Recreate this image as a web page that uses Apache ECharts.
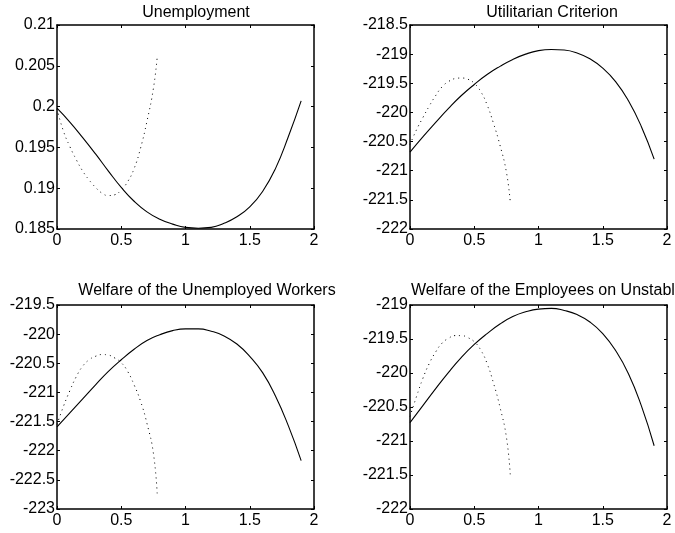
<!DOCTYPE html>
<html>
<head>
<meta charset="utf-8">
<script src="https://cdn.jsdelivr.net/npm/echarts@6/dist/echarts.min.js"></script>
<style>
html,body{margin:0;padding:0;background:#fff;}
#chart{width:675px;height:533px;}
</style>
</head>
<body>
<div id="chart"></div>
<script>
// ---- Data ----
const xSolid = [0, 0.1, 0.2, 0.3, 0.4, 0.5, 0.6, 0.7, 0.8, 0.9, 1.0, 1.1, 1.2, 1.3, 1.4, 1.5, 1.6, 1.7, 1.8, 1.9];
const xDotted = [0, 0.05, 0.1, 0.15, 0.2, 0.25, 0.3, 0.35, 0.4, 0.45, 0.5, 0.55, 0.6, 0.65, 0.7, 0.75, 0.78];

const titles = ['Unemployment', 'Utilitarian Criterion', 'Welfare of the Unemployed Workers', 'Welfare of the Employees on Unstable Jobs'];
const xTicks = [0, 0.5, 1, 1.5, 2];

const unemploymentSolid = [0.1998, 0.1981, 0.1962, 0.1942, 0.1921, 0.1901, 0.1884, 0.1871, 0.1862, 0.1856, 0.1852, 0.1851, 0.1852, 0.1857, 0.1865, 0.1877, 0.1896, 0.1924, 0.1963, 0.2007];
const unemploymentDotted = [0.1997, 0.1970, 0.1951, 0.1935, 0.1921, 0.1910, 0.1901, 0.1894, 0.1891, 0.1892, 0.1898, 0.1908, 0.1924, 0.1949, 0.1982, 0.2022, 0.2061];

const utilitarianSolid = [-220.68, -220.42, -220.17, -219.93, -219.71, -219.52, -219.35, -219.21, -219.09, -219.00, -218.94, -218.92, -218.93, -218.98, -219.08, -219.24, -219.47, -219.80, -220.24, -220.80];
const utilitarianDotted = [-220.55, -220.30, -220.09, -219.89, -219.71, -219.56, -219.47, -219.42, -219.41, -219.43, -219.50, -219.64, -219.87, -220.19, -220.56, -221.02, -221.53];

const unemployedSolid = [-221.59, -221.35, -221.11, -220.87, -220.64, -220.44, -220.26, -220.11, -220.01, -219.94, -219.91, -219.91, -219.95, -220.03, -220.17, -220.38, -220.66, -221.06, -221.57, -222.17];
const unemployedDotted = [-221.55, -221.24, -220.97, -220.73, -220.55, -220.44, -220.38, -220.35, -220.36, -220.41, -220.49, -220.64, -220.87, -221.15, -221.53, -222.04, -222.75];

const unstableSolid = [-220.73, -220.48, -220.23, -219.99, -219.77, -219.58, -219.42, -219.28, -219.17, -219.10, -219.06, -219.05, -219.08, -219.14, -219.25, -219.42, -219.67, -220.01, -220.48, -221.07];
const unstableDotted = [-220.64, -220.35, -220.08, -219.86, -219.69, -219.56, -219.49, -219.45, -219.45, -219.48, -219.54, -219.66, -219.86, -220.15, -220.50, -220.94, -221.49];

const yRanges = [
  {min: 0.185, max: 0.21, interval: 0.005, dec: 3},
  {min: -222, max: -218.5, interval: 0.5, dec: 1},
  {min: -223, max: -219.5, interval: 0.5, dec: 1},
  {min: -222, max: -219, interval: 0.5, dec: 1}
];
const solidSets = [unemploymentSolid, utilitarianSolid, unemployedSolid, unstableSolid];
const dottedSets = [unemploymentDotted, utilitarianDotted, unemployedDotted, unstableDotted];

// ---- Layout ----
const grids = [
  {left: 57, top: 25, width: 257, height: 204},
  {left: 410, top: 25, width: 257, height: 204},
  {left: 57, top: 305, width: 257, height: 204},
  {left: 410, top: 305, width: 257, height: 204}
];
const titlePos = [
  {left: 196, top: 5, textAlign: 'center'},
  {left: 552, top: 5, textAlign: 'center'},
  {left: 207, top: 283, textAlign: 'center'},
  {left: 411, top: 283, textAlign: 'left'}
];

const FONT = "'Liberation Sans', Arial, Helvetica, sans-serif";
const lineStyleAxis = {color: '#000', width: 1.5};
const fmt = (dec) => (v) => String(parseFloat(Number(v).toFixed(dec)));

const xAxes = [], yAxes = [], series = [], titleOpts = [];
for (let i = 0; i < 4; i++) {
  titleOpts.push({
    text: titles[i], left: titlePos[i].left, top: titlePos[i].top, textAlign: titlePos[i].textAlign,
    padding: 0,
    textStyle: {fontFamily: FONT, fontSize: 16, fontWeight: 'normal', color: '#000'}
  });
  const xBase = {
    gridIndex: i, type: 'value', min: xTicks[0], max: xTicks[xTicks.length - 1], interval: 0.5,
    axisLine: {show: true, onZero: false, lineStyle: lineStyleAxis},
    axisTick: {show: true, inside: true, length: 3, lineStyle: {color: '#000', width: 1}},
    splitLine: {show: false}
  };
  xAxes.push(Object.assign({}, xBase, {
    position: 'bottom',
    axisLabel: {show: true, margin: 4, color: '#000', fontFamily: FONT, fontSize: 16, formatter: fmt(1)}
  }));
  xAxes.push(Object.assign({}, xBase, {position: 'top', axisLabel: {show: false}}));
  const r = yRanges[i];
  const yBase = {
    gridIndex: i, type: 'value', min: r.min, max: r.max, interval: r.interval,
    axisLine: {show: true, onZero: false, lineStyle: lineStyleAxis},
    axisTick: {show: true, inside: true, length: 3, lineStyle: {color: '#000', width: 1}},
    splitLine: {show: false}
  };
  yAxes.push(Object.assign({}, yBase, {
    position: 'left',
    axisLabel: {show: true, margin: 2, color: '#000', fontFamily: FONT, fontSize: 16, formatter: fmt(r.dec), showMinLabel: true, showMaxLabel: true}
  }));
  yAxes.push(Object.assign({}, yBase, {position: 'right', axisLabel: {show: false}}));

  series.push({
    type: 'line', xAxisIndex: 2 * i, yAxisIndex: 2 * i,
    data: xSolid.map((x, k) => [x, solidSets[i][k]]),
    smooth: true, showSymbol: false, symbol: 'none',
    lineStyle: {color: '#000', width: 1.1, type: 'solid'},
    animation: false
  });
  series.push({
    type: 'line', xAxisIndex: 2 * i, yAxisIndex: 2 * i,
    data: xDotted.map((x, k) => [x, dottedSets[i][k]]),
    smooth: true, showSymbol: false, symbol: 'none',
    lineStyle: {color: '#000', width: 1, type: [1, 4]},
    animation: false
  });
}

const chart = echarts.init(document.getElementById('chart'), null, {renderer: 'canvas'});
chart.setOption({
  animation: false,
  backgroundColor: '#fff',
  title: titleOpts,
  grid: grids.map(g => Object.assign({containLabel: false}, g)),
  xAxis: xAxes,
  yAxis: yAxes,
  series: series
});
</script>
</body>
</html>
